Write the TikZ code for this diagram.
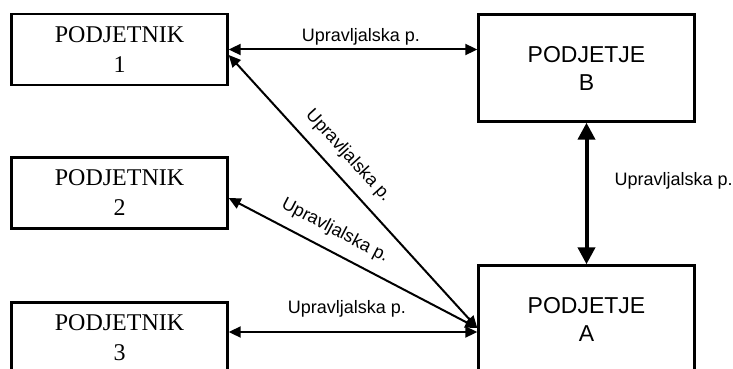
\documentclass[tikz,border=0pt]{standalone}
\usepackage{fontspec}
\setmainfont{Liberation Serif}
\newfontfamily\arialfont{Liberation Sans}
\usetikzlibrary{arrows.meta}

\tikzset{
  firm/.style={draw, line width=2.4pt, minimum width=216pt, align=center, inner sep=0pt},
  sub/.style={firm, minimum height=71pt, font=\fontsize{24}{30}\selectfont},
  parent/.style={firm, minimum height=107pt, font=\arialfont\fontsize{23}{28}\selectfont},
  link/.style={line width=2pt, {Triangle[length=12pt,width=11pt]}-{Triangle[length=12pt,width=11pt]}},
  biglink/.style={line width=4pt, {Triangle[length=17pt,width=17pt]}-{Triangle[length=17pt,width=17pt]}},
  lbl/.style={font=\arialfont\fontsize{18}{21}\selectfont, inner sep=0pt}
}

\begin{document}
\begin{tikzpicture}[x=1pt, y=-1pt]
  \useasboundingbox (0,0) rectangle (733,369);

  \node (sub1)  at (119.5,49.5) [sub] {PODJETNIK\\1};
  \node (sub2)  at (119.5,193)  [sub] {PODJETNIK\\2};
  \node (sub3)  at (119.5,338)  [sub] {PODJETNIK\\3};
  \node (firmB) at (586.5,68)   [parent] {PODJETJE\\B};
  \node (firmA) at (586.5,319)  [parent] {PODJETJE\\A};

  \draw[link] (sub1.east) -- (sub1.east -| firmB.west)
    node[lbl, midway, above=3pt, xshift=8pt] {Upravljalska p.};
  \draw[link] ([yshift=-5.5pt]sub1.east) -- ([yshift=-9pt]firmA.west)
    node[lbl, pos=.42, sloped, above=11pt] {Upravljalska p.};
  \draw[link] ([yshift=-5pt]sub2.east) -- ([yshift=-9pt]firmA.west)
    node[lbl, pos=.39, sloped, above=11pt] {Upravljalska p.};
  \draw[link] ([yshift=6pt]sub3.east) -- ([yshift=6pt]sub3.east -| firmA.west)
    node[lbl, midway, above=14pt, xshift=-6pt] {Upravljalska p.};
  \draw[biglink] (firmB.south) -- (firmA.north)
    node[lbl, midway, right=26pt, yshift=13pt] {Upravljalska p.};
\end{tikzpicture}
\end{document}
